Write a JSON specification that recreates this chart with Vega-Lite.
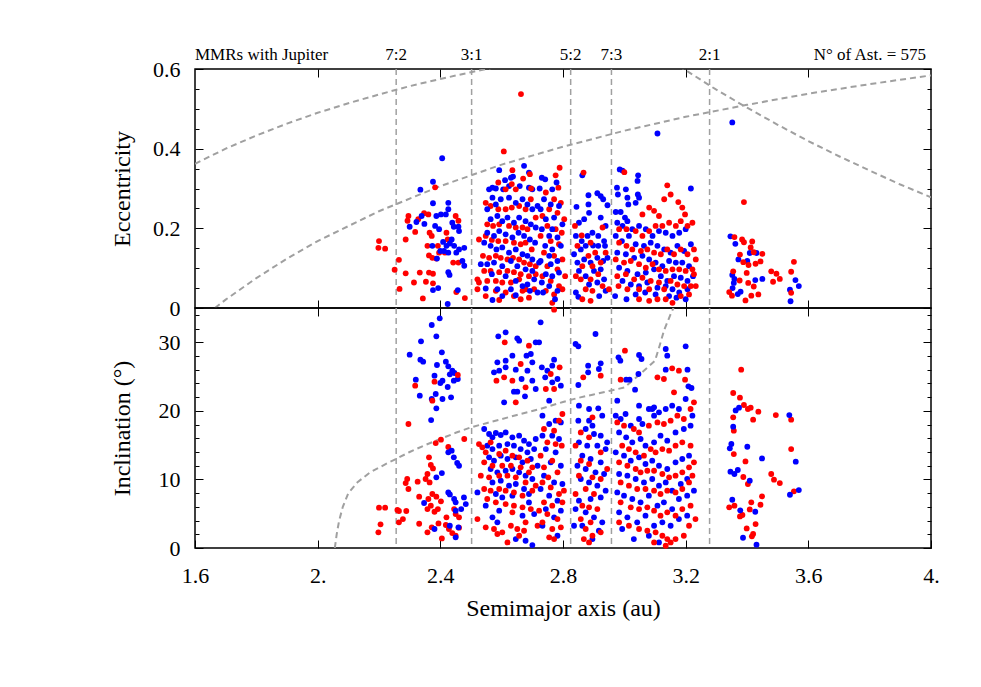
{
"$schema": "https://vega.github.io/schema/vega-lite/v6.json",
"padding": {"left": 109, "top": 45, "right": 5, "bottom": 5},
"background": "white",
"config": {
  "font": "Liberation Serif",
  "view": {"stroke": "black", "strokeWidth": 1.5},
  "axis": {"domain": false, "grid": false, "tickColor": "black", "tickWidth": 1, "labelFont": "Liberation Serif", "titleFont": "Liberation Serif", "labelFontSize": 22, "titleFontSize": 24, "labelColor": "black", "titleColor": "black", "titleFontWeight": "normal", "labelOverlap": false, "labelBound": false, "labelFlush": false},
  "text": {"font": "Liberation Serif", "fontSize": 17, "color": "black"}
},
"datasets": {
  "mmr": [{"a":2.256,"label":"7:2"},{"a":2.502,"label":"3:1"},{"a":2.825,"label":"5:2"},{"a":2.958,"label":"7:3"},{"a":3.278,"label":"2:1"}],
  "notes": [{"a":1.6,"t":"MMRs with Jupiter"},{"a":4.0,"t":"N° of Ast. = 575"}],
  "curvesTop": [
    {"k":"q1","a":1.6,"e":0.362},{"k":"q1","a":1.7,"e":0.4},{"k":"q1","a":1.8,"e":0.433},{"k":"q1","a":1.9,"e":0.463},{"k":"q1","a":2.0,"e":0.49},{"k":"q1","a":2.1,"e":0.514},{"k":"q1","a":2.2,"e":0.536},{"k":"q1","a":2.3,"e":0.557},{"k":"q1","a":2.4,"e":0.575},{"k":"q1","a":2.5,"e":0.592},{"k":"q1","a":2.55,"e":0.6},{"k":"q1","a":2.6,"e":0.608},
    {"k":"q2","a":1.665,"e":0},{"k":"q2","a":1.7,"e":0.021},{"k":"q2","a":1.8,"e":0.075},{"k":"q2","a":1.9,"e":0.124},{"k":"q2","a":2.0,"e":0.168},{"k":"q2","a":2.2,"e":0.243},{"k":"q2","a":2.4,"e":0.306},{"k":"q2","a":2.6,"e":0.36},{"k":"q2","a":2.8,"e":0.405},{"k":"q2","a":3.0,"e":0.445},{"k":"q2","a":3.2,"e":0.48},{"k":"q2","a":3.4,"e":0.51},{"k":"q2","a":3.6,"e":0.538},{"k":"q2","a":3.8,"e":0.562},{"k":"q2","a":4.0,"e":0.584},
    {"k":"Q","a":3.15,"e":0.622},{"k":"Q","a":3.194,"e":0.6},{"k":"Q","a":3.3,"e":0.548},{"k":"Q","a":3.4,"e":0.503},{"k":"Q","a":3.5,"e":0.46},{"k":"Q","a":3.6,"e":0.419},{"k":"Q","a":3.7,"e":0.381},{"k":"Q","a":3.8,"e":0.345},{"k":"Q","a":3.9,"e":0.31},{"k":"Q","a":4.0,"e":0.278}
  ],
  "curveBot": [
    {"a":2.056,"i":0},{"a":2.062,"i":2},{"a":2.07,"i":4},{"a":2.082,"i":6},{"a":2.1,"i":8},{"a":2.13,"i":9.6},{"a":2.17,"i":11},{"a":2.22,"i":12.2},{"a":2.256,"i":13.0},{"a":2.3,"i":14.0},{"a":2.35,"i":15.0},{"a":2.4,"i":15.9},{"a":2.45,"i":16.8},{"a":2.5,"i":17.6},{"a":2.55,"i":18.2},{"a":2.6,"i":18.8},{"a":2.65,"i":19.4},{"a":2.72,"i":20.2},{"a":2.8,"i":21.3},{"a":2.85,"i":21.9},{"a":2.9,"i":22.4},{"a":2.95,"i":22.9},{"a":3.0,"i":23.4},{"a":3.05,"i":25.3},{"a":3.1,"i":27.3},{"a":3.115,"i":29.5},{"a":3.13,"i":31.8},{"a":3.15,"i":34.0},{"a":3.165,"i":35.5}
  ],
  "ecc": [
    {"a":2.2,"e":0.168,"c":"r"},{"a":2.198,"e":0.151,"c":"r"},{"a":2.22,"e":0.149,"c":"r"},{"a":2.265,"e":0.121,"c":"r"},{"a":2.251,"e":0.096,"c":"r"},{"a":2.287,"e":0.087,"c":"r"},{"a":2.267,"e":0.048,"c":"r"},{"a":2.333,"e":0.089,"c":"r"},{"a":2.363,"e":0.089,"c":"r"},{"a":2.376,"e":0.086,"c":"r"},{"a":2.314,"e":0.064,"c":"r"},{"a":2.353,"e":0.066,"c":"r"},{"a":2.376,"e":0.062,"c":"r"},{"a":2.343,"e":0.024,"c":"r"},{"a":2.452,"e":0.04,"c":"r"},{"a":2.48,"e":0.025,"c":"r"},{"a":2.607,"e":0.393,"c":"r"},{"a":2.663,"e":0.537,"c":"r"},{"a":2.383,"e":0.303,"c":"r"},
    {"a":2.393,"e":0.05,"c":"b"},{"a":2.376,"e":0.045,"c":"b"},{"a":2.426,"e":0.09,"c":"b"},{"a":2.43,"e":0.083,"c":"b"},{"a":2.457,"e":0.045,"c":"b"},{"a":2.424,"e":0.01,"c":"b"},{"a":2.406,"e":0.376,"c":"b"},{"a":2.376,"e":0.317,"c":"b"},{"a":2.335,"e":0.297,"c":"b"},
    {"a":2.296,"e":0.231,"c":"r"},{"a":2.293,"e":0.219,"c":"r"},{"a":2.287,"e":0.172,"c":"r"},{"a":2.318,"e":0.191,"c":"r"},{"a":2.328,"e":0.223,"c":"r"},{"a":2.347,"e":0.238,"c":"r"},{"a":2.361,"e":0.235,"c":"r"},{"a":2.365,"e":0.189,"c":"r"},{"a":2.372,"e":0.181,"c":"r"},{"a":2.358,"e":0.156,"c":"r"},{"a":2.363,"e":0.132,"c":"r"},{"a":2.374,"e":0.126,"c":"r"},{"a":2.387,"e":0.124,"c":"r"},{"a":2.396,"e":0.139,"c":"r"},{"a":2.392,"e":0.156,"c":"r"},{"a":2.42,"e":0.189,"c":"r"},{"a":2.424,"e":0.172,"c":"r"},{"a":2.45,"e":0.231,"c":"r"},{"a":2.459,"e":0.219,"c":"r"},{"a":2.442,"e":0.114,"c":"r"},{"a":2.459,"e":0.114,"c":"r"},{"a":2.415,"e":0.139,"c":"r"},
    {"a":2.3,"e":0.204,"c":"b"},{"a":2.322,"e":0.216,"c":"b"},{"a":2.339,"e":0.231,"c":"b"},{"a":2.348,"e":0.211,"c":"b"},{"a":2.376,"e":0.263,"c":"b"},{"a":2.387,"e":0.231,"c":"b"},{"a":2.383,"e":0.206,"c":"b"},{"a":2.402,"e":0.235,"c":"b"},{"a":2.418,"e":0.235,"c":"b"},{"a":2.426,"e":0.264,"c":"b"},{"a":2.439,"e":0.214,"c":"b"},{"a":2.444,"e":0.204,"c":"b"},{"a":2.459,"e":0.204,"c":"b"},{"a":2.461,"e":0.193,"c":"b"},{"a":2.437,"e":0.172,"c":"b"},{"a":2.409,"e":0.166,"c":"b"},{"a":2.42,"e":0.156,"c":"b"},{"a":2.431,"e":0.162,"c":"b"},{"a":2.445,"e":0.156,"c":"b"},{"a":2.452,"e":0.139,"c":"b"},{"a":2.461,"e":0.147,"c":"b"},{"a":2.478,"e":0.151,"c":"b"},{"a":2.472,"e":0.118,"c":"b"},{"a":2.478,"e":0.106,"c":"b"},{"a":2.426,"e":0.139,"c":"b"},{"a":2.412,"e":0.143,"c":"b"},{"a":2.4,"e":0.143,"c":"b"},{"a":2.389,"e":0.124,"c":"b"},{"a":2.374,"e":0.156,"c":"b"},{"a":2.396,"e":0.198,"c":"b"},{"a":2.426,"e":0.248,"c":"b"},
    {"a":2.592,"e":0.346,"c":"b"},{"a":2.611,"e":0.321,"c":"b"},{"a":2.63,"e":0.327,"c":"b"},{"a":2.637,"e":0.33,"c":"b"},{"a":2.673,"e":0.357,"c":"b"},{"a":2.689,"e":0.34,"c":"b"},{"a":2.57,"e":0.302,"c":"b"},{"a":2.559,"e":0.298,"c":"b"},{"a":2.581,"e":0.3,"c":"b"},{"a":2.605,"e":0.298,"c":"b"},{"a":2.624,"e":0.306,"c":"b"},{"a":2.659,"e":0.306,"c":"b"},{"a":2.689,"e":0.302,"c":"b"},{"a":2.7,"e":0.298,"c":"b"},
    {"a":2.635,"e":0.346,"c":"r"},{"a":2.67,"e":0.325,"c":"r"},{"a":2.692,"e":0.336,"c":"r"},{"a":2.589,"e":0.315,"c":"r"},{"a":2.613,"e":0.298,"c":"r"},{"a":2.633,"e":0.311,"c":"r"},{"a":2.696,"e":0.3,"c":"r"},{"a":2.646,"e":0.298,"c":"r"},
    {"a":2.548,"e":0.264,"c":"r"},{"a":2.564,"e":0.256,"c":"r"},{"a":2.589,"e":0.248,"c":"r"},{"a":2.613,"e":0.248,"c":"r"},{"a":2.633,"e":0.252,"c":"r"},{"a":2.657,"e":0.256,"c":"r"},{"a":2.678,"e":0.248,"c":"r"},{"a":2.695,"e":0.273,"c":"r"},{"a":2.711,"e":0.227,"c":"r"},{"a":2.553,"e":0.21,"c":"r"},{"a":2.572,"e":0.206,"c":"r"},{"a":2.592,"e":0.21,"c":"r"},{"a":2.624,"e":0.206,"c":"r"},{"a":2.646,"e":0.202,"c":"r"},{"a":2.668,"e":0.202,"c":"r"},{"a":2.684,"e":0.198,"c":"r"},{"a":2.548,"e":0.181,"c":"r"},{"a":2.568,"e":0.171,"c":"r"},{"a":2.589,"e":0.168,"c":"r"},{"a":2.613,"e":0.168,"c":"r"},{"a":2.64,"e":0.164,"c":"r"},{"a":2.662,"e":0.16,"c":"r"},{"a":2.678,"e":0.164,"c":"r"},{"a":2.698,"e":0.147,"c":"r"},{"a":2.526,"e":0.172,"c":"r"},{"a":2.539,"e":0.131,"c":"r"},{"a":2.559,"e":0.126,"c":"r"},{"a":2.581,"e":0.131,"c":"r"},{"a":2.597,"e":0.126,"c":"r"},{"a":2.619,"e":0.122,"c":"r"},{"a":2.637,"e":0.126,"c":"r"},{"a":2.657,"e":0.122,"c":"r"},{"a":2.673,"e":0.114,"c":"r"},{"a":2.692,"e":0.11,"c":"r"},{"a":2.711,"e":0.105,"c":"r"},{"a":2.521,"e":0.072,"c":"r"},{"a":2.543,"e":0.093,"c":"r"},{"a":2.564,"e":0.093,"c":"r"},{"a":2.592,"e":0.09,"c":"r"},{"a":2.619,"e":0.093,"c":"r"},{"a":2.64,"e":0.09,"c":"r"},{"a":2.662,"e":0.085,"c":"r"},{"a":2.689,"e":0.08,"c":"r"},{"a":2.711,"e":0.085,"c":"r"},{"a":2.526,"e":0.064,"c":"r"},{"a":2.553,"e":0.068,"c":"r"},{"a":2.581,"e":0.068,"c":"r"},{"a":2.602,"e":0.064,"c":"r"},{"a":2.63,"e":0.064,"c":"r"},{"a":2.657,"e":0.072,"c":"r"},{"a":2.678,"e":0.047,"c":"r"},{"a":2.706,"e":0.047,"c":"r"},{"a":2.581,"e":0.043,"c":"r"},{"a":2.613,"e":0.039,"c":"r"},{"a":2.64,"e":0.03,"c":"r"},{"a":2.668,"e":0.043,"c":"r"},{"a":2.521,"e":0.047,"c":"r"},{"a":2.548,"e":0.03,"c":"r"},{"a":2.592,"e":0.02,"c":"r"},{"a":2.662,"e":0.022,"c":"r"},{"a":2.689,"e":0.026,"c":"r"},
    {"a":2.553,"e":0.248,"c":"b"},{"a":2.57,"e":0.277,"c":"b"},{"a":2.581,"e":0.26,"c":"b"},{"a":2.597,"e":0.273,"c":"b"},{"a":2.624,"e":0.277,"c":"b"},{"a":2.646,"e":0.264,"c":"b"},{"a":2.668,"e":0.273,"c":"b"},{"a":2.684,"e":0.26,"c":"b"},{"a":2.7,"e":0.248,"c":"b"},{"a":2.717,"e":0.256,"c":"b"},{"a":2.564,"e":0.223,"c":"b"},{"a":2.586,"e":0.231,"c":"b"},{"a":2.602,"e":0.218,"c":"b"},{"a":2.619,"e":0.227,"c":"b"},{"a":2.64,"e":0.214,"c":"b"},{"a":2.657,"e":0.227,"c":"b"},{"a":2.678,"e":0.218,"c":"b"},{"a":2.695,"e":0.21,"c":"b"},{"a":2.711,"e":0.202,"c":"b"},{"a":2.553,"e":0.189,"c":"b"},{"a":2.575,"e":0.181,"c":"b"},{"a":2.592,"e":0.193,"c":"b"},{"a":2.613,"e":0.185,"c":"b"},{"a":2.635,"e":0.177,"c":"b"},{"a":2.655,"e":0.189,"c":"b"},{"a":2.673,"e":0.181,"c":"b"},{"a":2.692,"e":0.172,"c":"b"},{"a":2.709,"e":0.164,"c":"b"},{"a":2.543,"e":0.164,"c":"b"},{"a":2.564,"e":0.156,"c":"b"},{"a":2.583,"e":0.147,"c":"b"},{"a":2.602,"e":0.152,"c":"b"},{"a":2.624,"e":0.139,"c":"b"},{"a":2.646,"e":0.147,"c":"b"},{"a":2.668,"e":0.135,"c":"b"},{"a":2.684,"e":0.131,"c":"b"},{"a":2.7,"e":0.122,"c":"b"},{"a":2.722,"e":0.114,"c":"b"},{"a":2.532,"e":0.11,"c":"b"},{"a":2.553,"e":0.11,"c":"b"},{"a":2.575,"e":0.114,"c":"b"},{"a":2.602,"e":0.105,"c":"b"},{"a":2.63,"e":0.118,"c":"b"},{"a":2.651,"e":0.105,"c":"b"},{"a":2.678,"e":0.097,"c":"b"},{"a":2.7,"e":0.093,"c":"b"},{"a":2.568,"e":0.085,"c":"b"},{"a":2.613,"e":0.08,"c":"b"},{"a":2.646,"e":0.068,"c":"b"},{"a":2.684,"e":0.059,"c":"b"},{"a":2.706,"e":0.072,"c":"b"},{"a":2.548,"e":0.049,"c":"b"},{"a":2.586,"e":0.047,"c":"b"},{"a":2.63,"e":0.047,"c":"b"},{"a":2.668,"e":0.055,"c":"b"},{"a":2.692,"e":0.043,"c":"b"},{"a":2.717,"e":0.039,"c":"b"},{"a":2.57,"e":0.02,"c":"b"},{"a":2.602,"e":0.03,"c":"b"},{"a":2.646,"e":0.032,"c":"b"},
    {"a":2.789,"e":0.352,"c":"r"},{"a":2.776,"e":0.333,"c":"r"},{"a":2.785,"e":0.302,"c":"r"},{"a":2.744,"e":0.29,"c":"r"},{"a":2.771,"e":0.273,"c":"r"},{"a":2.793,"e":0.264,"c":"r"},{"a":2.755,"e":0.248,"c":"r"},{"a":2.733,"e":0.231,"c":"r"},{"a":2.782,"e":0.239,"c":"r"},{"a":2.804,"e":0.223,"c":"r"},{"a":2.749,"e":0.206,"c":"r"},{"a":2.776,"e":0.198,"c":"r"},{"a":2.796,"e":0.189,"c":"r"},{"a":2.727,"e":0.181,"c":"r"},{"a":2.76,"e":0.168,"c":"r"},{"a":2.787,"e":0.16,"c":"r"},{"a":2.738,"e":0.139,"c":"r"},{"a":2.771,"e":0.131,"c":"r"},{"a":2.798,"e":0.122,"c":"r"},{"a":2.749,"e":0.105,"c":"r"},{"a":2.782,"e":0.097,"c":"r"},{"a":2.807,"e":0.08,"c":"r"},{"a":2.733,"e":0.08,"c":"r"},{"a":2.76,"e":0.068,"c":"r"},{"a":2.787,"e":0.055,"c":"r"},{"a":2.744,"e":0.043,"c":"r"},{"a":2.771,"e":0.034,"c":"r"},{"a":2.798,"e":0.047,"c":"r"},{"a":2.765,"e":0.013,"c":"r"},
    {"a":2.731,"e":0.327,"c":"b"},{"a":2.742,"e":0.323,"c":"b"},{"a":2.724,"e":0.3,"c":"b"},{"a":2.765,"e":0.298,"c":"b"},{"a":2.779,"e":0.315,"c":"b"},{"a":2.738,"e":0.273,"c":"b"},{"a":2.76,"e":0.26,"c":"b"},{"a":2.787,"e":0.256,"c":"b"},{"a":2.727,"e":0.248,"c":"b"},{"a":2.744,"e":0.223,"c":"b"},{"a":2.771,"e":0.227,"c":"b"},{"a":2.798,"e":0.21,"c":"b"},{"a":2.765,"e":0.198,"c":"b"},{"a":2.731,"e":0.198,"c":"b"},{"a":2.755,"e":0.181,"c":"b"},{"a":2.782,"e":0.177,"c":"b"},{"a":2.742,"e":0.156,"c":"b"},{"a":2.765,"e":0.147,"c":"b"},{"a":2.793,"e":0.156,"c":"b"},{"a":2.755,"e":0.131,"c":"b"},{"a":2.782,"e":0.118,"c":"b"},{"a":2.727,"e":0.118,"c":"b"},{"a":2.76,"e":0.11,"c":"b"},{"a":2.787,"e":0.089,"c":"b"},{"a":2.744,"e":0.085,"c":"b"},{"a":2.765,"e":0.08,"c":"b"},{"a":2.731,"e":0.064,"c":"b"},{"a":2.755,"e":0.055,"c":"b"},{"a":2.782,"e":0.043,"c":"b"},{"a":2.735,"e":0.039,"c":"b"},{"a":2.774,"e":0.022,"c":"b"},
    {"a":2.863,"e":0.333,"c":"b"},{"a":2.844,"e":0.254,"c":"b"},{"a":2.883,"e":0.283,"c":"b"},{"a":2.883,"e":0.26,"c":"b"},{"a":2.912,"e":0.288,"c":"b"},{"a":2.923,"e":0.281,"c":"b"},{"a":2.931,"e":0.273,"c":"b"},{"a":2.945,"e":0.258,"c":"b"},{"a":2.852,"e":0.214,"c":"b"},{"a":2.869,"e":0.223,"c":"b"},{"a":2.885,"e":0.239,"c":"b"},{"a":2.923,"e":0.227,"c":"b"},{"a":2.939,"e":0.206,"c":"b"},{"a":2.842,"e":0.181,"c":"b"},{"a":2.861,"e":0.168,"c":"b"},{"a":2.88,"e":0.181,"c":"b"},{"a":2.896,"e":0.189,"c":"b"},{"a":2.915,"e":0.181,"c":"b"},{"a":2.934,"e":0.168,"c":"b"},{"a":2.836,"e":0.135,"c":"b"},{"a":2.858,"e":0.147,"c":"b"},{"a":2.874,"e":0.156,"c":"b"},{"a":2.898,"e":0.157,"c":"b"},{"a":2.915,"e":0.156,"c":"b"},{"a":2.937,"e":0.156,"c":"b"},{"a":2.847,"e":0.114,"c":"b"},{"a":2.869,"e":0.122,"c":"b"},{"a":2.89,"e":0.114,"c":"b"},{"a":2.912,"e":0.126,"c":"b"},{"a":2.931,"e":0.118,"c":"b"},{"a":2.945,"e":0.126,"c":"b"},{"a":2.852,"e":0.093,"c":"b"},{"a":2.874,"e":0.08,"c":"b"},{"a":2.901,"e":0.093,"c":"b"},{"a":2.923,"e":0.097,"c":"b"},{"a":2.885,"e":0.059,"c":"b"},{"a":2.912,"e":0.064,"c":"b"},{"a":2.934,"e":0.072,"c":"b"},{"a":2.85,"e":0.028,"c":"b"},{"a":2.918,"e":0.03,"c":"b"},{"a":2.939,"e":0.043,"c":"b"},{"a":2.842,"e":0.039,"c":"b"},
    {"a":2.867,"e":0.34,"c":"r"},{"a":2.839,"e":0.206,"c":"r"},{"a":2.861,"e":0.182,"c":"r"},{"a":2.89,"e":0.164,"c":"r"},{"a":2.929,"e":0.202,"c":"r"},{"a":2.847,"e":0.156,"c":"r"},{"a":2.883,"e":0.131,"c":"r"},{"a":2.905,"e":0.139,"c":"r"},{"a":2.939,"e":0.139,"c":"r"},{"a":2.863,"e":0.105,"c":"r"},{"a":2.896,"e":0.105,"c":"r"},{"a":2.923,"e":0.114,"c":"r"},{"a":2.842,"e":0.08,"c":"r"},{"a":2.858,"e":0.072,"c":"r"},{"a":2.89,"e":0.072,"c":"r"},{"a":2.915,"e":0.085,"c":"r"},{"a":2.874,"e":0.047,"c":"r"},{"a":2.896,"e":0.043,"c":"r"},{"a":2.929,"e":0.055,"c":"r"},{"a":2.863,"e":0.022,"c":"r"},{"a":2.89,"e":0.018,"c":"r"},{"a":2.95,"e":0.047,"c":"r"},
    {"a":2.985,"e":0.348,"c":"b"},{"a":2.994,"e":0.345,"c":"b"},{"a":3.045,"e":0.333,"c":"b"},{"a":3.043,"e":0.319,"c":"b"},{"a":2.976,"e":0.302,"c":"b"},{"a":3.005,"e":0.298,"c":"b"},{"a":3.044,"e":0.285,"c":"b"},{"a":3.048,"e":0.277,"c":"b"},{"a":2.979,"e":0.285,"c":"b"},{"a":3.01,"e":0.277,"c":"b"},{"a":3.037,"e":0.264,"c":"b"},{"a":3.013,"e":0.26,"c":"b"},{"a":2.972,"e":0.241,"c":"b"},{"a":2.988,"e":0.241,"c":"b"},{"a":3.002,"e":0.227,"c":"b"},{"a":3.217,"e":0.3,"c":"b"},{"a":3.108,"e":0.438,"c":"b"},
    {"a":3.0,"e":0.341,"c":"r"},{"a":3.14,"e":0.308,"c":"r"},{"a":3.151,"e":0.285,"c":"r"},{"a":3.13,"e":0.273,"c":"r"},{"a":3.176,"e":0.266,"c":"r"},{"a":3.189,"e":0.252,"c":"r"},{"a":3.198,"e":0.235,"c":"r"},{"a":3.081,"e":0.252,"c":"r"},{"a":3.097,"e":0.244,"c":"r"},{"a":3.113,"e":0.231,"c":"r"},{"a":3.059,"e":0.235,"c":"r"},
    {"a":2.977,"e":0.214,"c":"b"},{"a":2.994,"e":0.206,"c":"b"},{"a":3.01,"e":0.218,"c":"b"},{"a":3.026,"e":0.198,"c":"b"},{"a":3.048,"e":0.206,"c":"b"},{"a":3.07,"e":0.198,"c":"b"},{"a":3.092,"e":0.181,"c":"b"},{"a":3.113,"e":0.193,"c":"b"},{"a":3.135,"e":0.189,"c":"b"},{"a":3.157,"e":0.181,"c":"b"},{"a":3.179,"e":0.189,"c":"b"},{"a":3.2,"e":0.198,"c":"b"},{"a":2.972,"e":0.181,"c":"b"},{"a":2.992,"e":0.168,"c":"b"},{"a":3.015,"e":0.181,"c":"b"},{"a":3.037,"e":0.16,"c":"b"},{"a":3.064,"e":0.156,"c":"b"},{"a":3.086,"e":0.164,"c":"b"},{"a":3.108,"e":0.156,"c":"b"},{"a":3.13,"e":0.147,"c":"b"},{"a":3.151,"e":0.139,"c":"b"},{"a":3.173,"e":0.156,"c":"b"},{"a":3.195,"e":0.143,"c":"b"},{"a":3.217,"e":0.16,"c":"b"},{"a":2.977,"e":0.139,"c":"b"},{"a":3.005,"e":0.135,"c":"b"},{"a":3.032,"e":0.126,"c":"b"},{"a":3.059,"e":0.131,"c":"b"},{"a":3.081,"e":0.122,"c":"b"},{"a":3.102,"e":0.114,"c":"b"},{"a":3.124,"e":0.105,"c":"b"},{"a":3.146,"e":0.118,"c":"b"},{"a":3.168,"e":0.114,"c":"b"},{"a":3.189,"e":0.114,"c":"b"},{"a":3.211,"e":0.105,"c":"b"},{"a":2.983,"e":0.101,"c":"b"},{"a":3.01,"e":0.093,"c":"b"},{"a":3.043,"e":0.085,"c":"b"},{"a":3.07,"e":0.089,"c":"b"},{"a":3.097,"e":0.097,"c":"b"},{"a":3.119,"e":0.08,"c":"b"},{"a":3.14,"e":0.068,"c":"b"},{"a":3.162,"e":0.08,"c":"b"},{"a":3.184,"e":0.076,"c":"b"},{"a":3.206,"e":0.068,"c":"b"},{"a":3.224,"e":0.08,"c":"b"},{"a":2.994,"e":0.068,"c":"b"},{"a":3.021,"e":0.059,"c":"b"},{"a":3.048,"e":0.055,"c":"b"},{"a":3.075,"e":0.064,"c":"b"},{"a":3.108,"e":0.051,"c":"b"},{"a":3.135,"e":0.055,"c":"b"},{"a":3.157,"e":0.047,"c":"b"},{"a":3.179,"e":0.039,"c":"b"},{"a":3.206,"e":0.047,"c":"b"},{"a":2.97,"e":0.03,"c":"b"},{"a":3.007,"e":0.022,"c":"b"},{"a":3.037,"e":0.034,"c":"b"},{"a":3.068,"e":0.039,"c":"b"},{"a":3.102,"e":0.034,"c":"b"},{"a":3.146,"e":0.03,"c":"b"},{"a":3.17,"e":0.026,"c":"b"},{"a":3.2,"e":0.022,"c":"b"},
    {"a":2.983,"e":0.198,"c":"r"},{"a":3.007,"e":0.198,"c":"r"},{"a":3.037,"e":0.193,"c":"r"},{"a":3.059,"e":0.181,"c":"r"},{"a":3.081,"e":0.193,"c":"r"},{"a":3.102,"e":0.206,"c":"r"},{"a":3.124,"e":0.206,"c":"r"},{"a":3.146,"e":0.214,"c":"r"},{"a":3.168,"e":0.206,"c":"r"},{"a":3.184,"e":0.218,"c":"r"},{"a":3.206,"e":0.206,"c":"r"},{"a":3.222,"e":0.214,"c":"r"},{"a":2.983,"e":0.164,"c":"r"},{"a":3.007,"e":0.156,"c":"r"},{"a":3.026,"e":0.147,"c":"r"},{"a":3.054,"e":0.143,"c":"r"},{"a":3.075,"e":0.147,"c":"r"},{"a":3.097,"e":0.139,"c":"r"},{"a":3.119,"e":0.135,"c":"r"},{"a":3.14,"e":0.147,"c":"r"},{"a":3.162,"e":0.135,"c":"r"},{"a":3.184,"e":0.147,"c":"r"},{"a":3.206,"e":0.135,"c":"r"},{"a":3.227,"e":0.147,"c":"r"},{"a":2.972,"e":0.122,"c":"r"},{"a":2.999,"e":0.114,"c":"r"},{"a":3.021,"e":0.118,"c":"r"},{"a":3.048,"e":0.11,"c":"r"},{"a":3.07,"e":0.101,"c":"r"},{"a":3.092,"e":0.11,"c":"r"},{"a":3.113,"e":0.097,"c":"r"},{"a":3.135,"e":0.093,"c":"r"},{"a":3.157,"e":0.097,"c":"r"},{"a":3.179,"e":0.097,"c":"r"},{"a":3.2,"e":0.093,"c":"r"},{"a":3.222,"e":0.097,"c":"r"},{"a":3.233,"e":0.122,"c":"r"},{"a":2.977,"e":0.08,"c":"r"},{"a":3.005,"e":0.085,"c":"r"},{"a":3.032,"e":0.072,"c":"r"},{"a":3.059,"e":0.076,"c":"r"},{"a":3.086,"e":0.068,"c":"r"},{"a":3.113,"e":0.064,"c":"r"},{"a":3.13,"e":0.047,"c":"r"},{"a":3.151,"e":0.068,"c":"r"},{"a":3.173,"e":0.059,"c":"r"},{"a":3.195,"e":0.055,"c":"r"},{"a":3.217,"e":0.055,"c":"r"},{"a":3.227,"e":0.085,"c":"r"},{"a":2.981,"e":0.055,"c":"r"},{"a":3.01,"e":0.047,"c":"r"},{"a":3.048,"e":0.047,"c":"r"},{"a":3.081,"e":0.047,"c":"r"},{"a":3.108,"e":0.022,"c":"r"},{"a":3.135,"e":0.022,"c":"r"},{"a":3.157,"e":0.013,"c":"r"},{"a":3.184,"e":0.03,"c":"r"},{"a":3.211,"e":0.034,"c":"r"},{"a":3.233,"e":0.055,"c":"r"},{"a":3.048,"e":0.022,"c":"r"},{"a":3.081,"e":0.018,"c":"r"},
    {"a":3.352,"e":0.466,"c":"b"},{"a":3.346,"e":0.18,"c":"b"},{"a":3.362,"e":0.161,"c":"b"},{"a":3.409,"e":0.138,"c":"b"},{"a":3.431,"e":0.138,"c":"b"},{"a":3.372,"e":0.122,"c":"b"},{"a":3.401,"e":0.118,"c":"b"},{"a":3.352,"e":0.083,"c":"b"},{"a":3.359,"e":0.073,"c":"b"},{"a":3.357,"e":0.063,"c":"b"},{"a":3.353,"e":0.05,"c":"b"},{"a":3.427,"e":0.07,"c":"b"},{"a":3.45,"e":0.073,"c":"b"},{"a":3.379,"e":0.041,"c":"b"},{"a":3.37,"e":0.035,"c":"b"},{"a":3.558,"e":0.07,"c":"b"},{"a":3.569,"e":0.055,"c":"b"},{"a":3.54,"e":0.046,"c":"b"},{"a":3.542,"e":0.017,"c":"b"},
    {"a":3.39,"e":0.266,"c":"r"},{"a":3.359,"e":0.178,"c":"r"},{"a":3.384,"e":0.172,"c":"r"},{"a":3.39,"e":0.165,"c":"r"},{"a":3.417,"e":0.167,"c":"r"},{"a":3.412,"e":0.152,"c":"r"},{"a":3.377,"e":0.134,"c":"r"},{"a":3.422,"e":0.14,"c":"r"},{"a":3.45,"e":0.136,"c":"r"},{"a":3.388,"e":0.115,"c":"r"},{"a":3.405,"e":0.108,"c":"r"},{"a":3.428,"e":0.111,"c":"r"},{"a":3.444,"e":0.117,"c":"r"},{"a":3.355,"e":0.092,"c":"r"},{"a":3.399,"e":0.088,"c":"r"},{"a":3.376,"e":0.069,"c":"r"},{"a":3.404,"e":0.063,"c":"r"},{"a":3.422,"e":0.054,"c":"r"},{"a":3.479,"e":0.092,"c":"r"},{"a":3.496,"e":0.086,"c":"r"},{"a":3.485,"e":0.066,"c":"r"},{"a":3.507,"e":0.073,"c":"r"},{"a":3.553,"e":0.116,"c":"r"},{"a":3.544,"e":0.091,"c":"r"},{"a":3.342,"e":0.04,"c":"r"},{"a":3.351,"e":0.031,"c":"r"},{"a":3.395,"e":0.019,"c":"r"},{"a":3.414,"e":0.031,"c":"r"},{"a":3.437,"e":0.034,"c":"r"},{"a":3.544,"e":0.038,"c":"r"}
  ],
  "inc": [
    {"a":2.398,"i":33.49,"c":"b"},{"a":2.372,"i":32.52,"c":"b"},{"a":2.387,"i":30.87,"c":"b"},{"a":2.337,"i":30.14,"c":"b"},{"a":2.3,"i":28.19,"c":"b"},{"a":2.335,"i":27.47,"c":"b"},{"a":2.344,"i":27.17,"c":"b"},{"a":2.405,"i":28.53,"c":"b"},{"a":2.418,"i":27.17,"c":"b"},{"a":2.389,"i":26.69,"c":"b"},{"a":2.426,"i":26.49,"c":"b"},{"a":2.439,"i":25.86,"c":"b"},{"a":2.446,"i":25.52,"c":"b"},{"a":2.431,"i":25.33,"c":"b"},{"a":2.457,"i":24.65,"c":"b"},{"a":2.444,"i":24.4,"c":"b"},{"a":2.32,"i":24.55,"c":"b"},{"a":2.381,"i":25.13,"c":"b"},{"a":2.407,"i":24.4,"c":"b"},{"a":2.424,"i":23.48,"c":"b"},{"a":2.4,"i":24.06,"c":"b"},{"a":2.385,"i":22.46,"c":"b"},{"a":2.372,"i":21.73,"c":"b"},{"a":2.407,"i":21.73,"c":"b"},{"a":2.435,"i":21.97,"c":"b"},{"a":2.333,"i":22.21,"c":"b"},{"a":2.387,"i":20.37,"c":"b"},{"a":2.37,"i":18.66,"c":"b"},
    {"a":2.457,"i":25.23,"c":"r"},{"a":2.381,"i":24.26,"c":"r"},{"a":2.318,"i":23.67,"c":"r"},{"a":2.374,"i":21.49,"c":"r"},{"a":2.296,"i":18.08,"c":"r"},
    {"a":2.385,"i":15.3,"c":"r"},{"a":2.402,"i":15.8,"c":"r"},{"a":2.426,"i":14.73,"c":"r"},{"a":2.478,"i":15.89,"c":"r"},{"a":2.363,"i":13.22,"c":"r"},{"a":2.369,"i":12.1,"c":"r"},{"a":2.376,"i":11.61,"c":"r"},{"a":2.358,"i":10.79,"c":"r"},{"a":2.352,"i":10.06,"c":"r"},{"a":2.365,"i":9.57,"c":"r"},{"a":2.292,"i":10.06,"c":"r"},{"a":2.287,"i":9.47,"c":"r"},{"a":2.296,"i":8.6,"c":"r"},{"a":2.326,"i":9.67,"c":"r"},{"a":2.374,"i":7.87,"c":"r"},{"a":2.387,"i":7.48,"c":"r"},{"a":2.402,"i":6.8,"c":"r"},{"a":2.331,"i":7.48,"c":"r"},{"a":2.361,"i":7.14,"c":"r"},{"a":2.358,"i":5.68,"c":"r"},{"a":2.369,"i":6.17,"c":"r"},{"a":2.392,"i":5.68,"c":"r"},{"a":2.381,"i":5.29,"c":"r"},{"a":2.289,"i":5.39,"c":"r"},{"a":2.265,"i":5.39,"c":"r"},{"a":2.26,"i":5.54,"c":"r"},{"a":2.278,"i":4.22,"c":"r"},{"a":2.331,"i":3.54,"c":"r"},{"a":2.394,"i":3.59,"c":"r"},{"a":2.372,"i":3.01,"c":"r"},{"a":2.358,"i":2.28,"c":"r"},{"a":2.418,"i":3.35,"c":"r"},{"a":2.428,"i":2.77,"c":"r"},{"a":2.439,"i":2.18,"c":"r"},{"a":2.45,"i":1.79,"c":"r"},{"a":2.405,"i":1.4,"c":"r"},{"a":2.461,"i":2.96,"c":"r"},{"a":2.42,"i":4.47,"c":"r"},{"a":2.45,"i":4.95,"c":"r"},{"a":2.461,"i":4.47,"c":"r"},{"a":2.445,"i":5.68,"c":"r"},{"a":2.2,"i":5.88,"c":"r"},{"a":2.22,"i":5.88,"c":"r"},{"a":2.205,"i":3.45,"c":"r"},{"a":2.198,"i":2.28,"c":"r"},{"a":2.265,"i":3.74,"c":"r"},
    {"a":2.426,"i":13.95,"c":"b"},{"a":2.437,"i":14.19,"c":"b"},{"a":2.444,"i":13.22,"c":"b"},{"a":2.461,"i":12.0,"c":"b"},{"a":2.455,"i":12.39,"c":"b"},{"a":2.405,"i":10.93,"c":"b"},{"a":2.387,"i":10.3,"c":"b"},{"a":2.426,"i":8.11,"c":"b"},{"a":2.431,"i":7.82,"c":"b"},{"a":2.445,"i":7.14,"c":"b"},{"a":2.45,"i":6.66,"c":"b"},{"a":2.477,"i":7.38,"c":"b"},{"a":2.483,"i":6.41,"c":"b"},{"a":2.347,"i":6.56,"c":"b"},{"a":2.468,"i":5.68,"c":"b"},{"a":2.45,"i":5.44,"c":"b"},{"a":2.431,"i":3.25,"c":"b"},{"a":2.459,"i":3.01,"c":"b"},{"a":2.381,"i":2.77,"c":"b"},{"a":2.45,"i":1.55,"c":"b"},
    {"a":2.589,"i":30.87,"c":"b"},{"a":2.613,"i":31.45,"c":"b"},{"a":2.651,"i":30.58,"c":"b"},{"a":2.657,"i":30.24,"c":"b"},{"a":2.711,"i":29.99,"c":"b"},{"a":2.635,"i":28.05,"c":"b"},{"a":2.586,"i":27.08,"c":"b"},{"a":2.613,"i":27.32,"c":"b"},{"a":2.575,"i":25.62,"c":"b"},{"a":2.592,"i":25.86,"c":"b"},{"a":2.613,"i":26.35,"c":"b"},{"a":2.646,"i":26.01,"c":"b"},{"a":2.681,"i":28.05,"c":"b"},{"a":2.695,"i":28.29,"c":"b"},{"a":2.7,"i":27.08,"c":"b"},{"a":2.684,"i":25.86,"c":"b"},{"a":2.665,"i":24.65,"c":"b"},{"a":2.651,"i":22.8,"c":"b"},{"a":2.676,"i":22.12,"c":"b"},{"a":2.608,"i":21.24,"c":"b"},{"a":2.64,"i":22.8,"c":"b"},{"a":2.711,"i":23.19,"c":"b"},{"a":2.7,"i":24.4,"c":"b"},
    {"a":2.61,"i":29.99,"c":"r"},{"a":2.662,"i":26.83,"c":"r"},{"a":2.583,"i":24.4,"c":"r"},{"a":2.608,"i":24.89,"c":"r"},{"a":2.635,"i":24.4,"c":"r"},{"a":2.646,"i":21.24,"c":"r"},{"a":2.678,"i":23.43,"c":"r"},{"a":2.689,"i":29.51,"c":"r"},
    {"a":2.543,"i":17.35,"c":"b"},{"a":2.559,"i":16.62,"c":"b"},{"a":2.57,"i":16.14,"c":"b"},{"a":2.581,"i":16.77,"c":"b"},{"a":2.597,"i":16.48,"c":"b"},{"a":2.613,"i":16.86,"c":"b"},{"a":2.635,"i":16.14,"c":"b"},{"a":2.657,"i":16.38,"c":"b"},{"a":2.673,"i":15.65,"c":"b"},{"a":2.689,"i":15.16,"c":"b"},{"a":2.711,"i":15.89,"c":"b"},{"a":2.553,"i":14.92,"c":"b"},{"a":2.57,"i":14.43,"c":"b"},{"a":2.592,"i":14.92,"c":"b"},{"a":2.619,"i":15.16,"c":"b"},{"a":2.64,"i":14.92,"c":"b"},{"a":2.662,"i":14.43,"c":"b"},{"a":2.684,"i":13.95,"c":"b"},{"a":2.706,"i":14.43,"c":"b"},{"a":2.559,"i":13.22,"c":"b"},{"a":2.575,"i":12.73,"c":"b"},{"a":2.597,"i":13.46,"c":"b"},{"a":2.619,"i":12.98,"c":"b"},{"a":2.646,"i":13.22,"c":"b"},{"a":2.668,"i":12.49,"c":"b"},{"a":2.695,"i":12.98,"c":"b"},{"a":2.717,"i":12.0,"c":"b"},{"a":2.564,"i":11.52,"c":"b"},{"a":2.586,"i":11.03,"c":"b"},{"a":2.613,"i":11.27,"c":"b"},{"a":2.635,"i":11.52,"c":"b"},{"a":2.657,"i":11.03,"c":"b"},{"a":2.678,"i":10.55,"c":"b"},{"a":2.7,"i":10.06,"c":"b"},{"a":2.57,"i":9.57,"c":"b"},{"a":2.597,"i":9.82,"c":"b"},{"a":2.624,"i":9.09,"c":"b"},{"a":2.646,"i":9.33,"c":"b"},{"a":2.673,"i":8.6,"c":"b"},{"a":2.689,"i":7.87,"c":"b"},{"a":2.521,"i":8.11,"c":"b"},{"a":2.581,"i":7.87,"c":"b"},{"a":2.602,"i":7.38,"c":"b"},{"a":2.635,"i":7.63,"c":"b"},{"a":2.689,"i":6.65,"c":"b"},{"a":2.548,"i":6.17,"c":"b"},{"a":2.57,"i":4.47,"c":"b"},{"a":2.592,"i":5.44,"c":"b"},{"a":2.646,"i":1.3,"c":"b"},{"a":2.678,"i":1.06,"c":"b"},{"a":2.7,"i":0.43,"c":"b"},{"a":2.586,"i":3.74,"c":"b"},{"a":2.668,"i":4.71,"c":"b"},{"a":2.706,"i":4.95,"c":"b"},
    {"a":2.526,"i":15.16,"c":"r"},{"a":2.537,"i":14.68,"c":"r"},{"a":2.548,"i":13.95,"c":"r"},{"a":2.564,"i":15.41,"c":"r"},{"a":2.592,"i":13.71,"c":"r"},{"a":2.613,"i":14.19,"c":"r"},{"a":2.635,"i":13.46,"c":"r"},{"a":2.657,"i":13.22,"c":"r"},{"a":2.684,"i":12.73,"c":"r"},{"a":2.7,"i":11.76,"c":"r"},{"a":2.543,"i":12.49,"c":"r"},{"a":2.57,"i":12.0,"c":"r"},{"a":2.602,"i":12.0,"c":"r"},{"a":2.63,"i":12.0,"c":"r"},{"a":2.662,"i":11.76,"c":"r"},{"a":2.689,"i":11.03,"c":"r"},{"a":2.532,"i":10.55,"c":"r"},{"a":2.559,"i":10.3,"c":"r"},{"a":2.592,"i":10.55,"c":"r"},{"a":2.619,"i":10.55,"c":"r"},{"a":2.646,"i":10.3,"c":"r"},{"a":2.678,"i":9.57,"c":"r"},{"a":2.711,"i":9.09,"c":"r"},{"a":2.543,"i":8.6,"c":"r"},{"a":2.564,"i":8.36,"c":"r"},{"a":2.592,"i":8.6,"c":"r"},{"a":2.613,"i":8.36,"c":"r"},{"a":2.64,"i":8.11,"c":"r"},{"a":2.668,"i":7.63,"c":"r"},{"a":2.7,"i":8.36,"c":"r"},{"a":2.553,"i":7.14,"c":"r"},{"a":2.581,"i":6.66,"c":"r"},{"a":2.613,"i":6.41,"c":"r"},{"a":2.64,"i":6.17,"c":"r"},{"a":2.668,"i":5.93,"c":"r"},{"a":2.695,"i":5.68,"c":"r"},{"a":2.722,"i":5.44,"c":"r"},{"a":2.521,"i":4.22,"c":"r"},{"a":2.548,"i":3.01,"c":"r"},{"a":2.575,"i":2.77,"c":"r"},{"a":2.602,"i":2.28,"c":"r"},{"a":2.63,"i":3.25,"c":"r"},{"a":2.651,"i":2.77,"c":"r"},{"a":2.673,"i":2.52,"c":"r"},{"a":2.635,"i":5.2,"c":"r"},{"a":2.678,"i":3.74,"c":"r"},{"a":2.717,"i":3.25,"c":"r"},{"a":2.586,"i":2.04,"c":"r"},{"a":2.619,"i":0.82,"c":"r"},{"a":2.657,"i":1.79,"c":"r"},
    {"a":2.771,"i":34.76,"c":"r"},
    {"a":2.727,"i":32.91,"c":"b"},{"a":2.722,"i":29.99,"c":"b"},{"a":2.731,"i":26.35,"c":"b"},{"a":2.749,"i":25.86,"c":"b"},{"a":2.765,"i":26.59,"c":"b"},{"a":2.771,"i":27.46,"c":"b"},{"a":2.742,"i":24.89,"c":"b"},{"a":2.765,"i":24.16,"c":"b"},{"a":2.782,"i":24.65,"c":"b"},{"a":2.793,"i":23.67,"c":"b"},{"a":2.755,"i":21.48,"c":"b"},{"a":2.733,"i":19.3,"c":"b"},{"a":2.755,"i":18.08,"c":"b"},{"a":2.776,"i":18.57,"c":"b"},{"a":2.793,"i":18.32,"c":"b"},{"a":2.733,"i":16.38,"c":"b"},{"a":2.765,"i":16.38,"c":"b"},{"a":2.787,"i":15.89,"c":"b"},{"a":2.744,"i":14.43,"c":"b"},{"a":2.776,"i":13.95,"c":"b"},{"a":2.76,"i":12.49,"c":"b"},{"a":2.793,"i":12.0,"c":"b"},{"a":2.738,"i":10.55,"c":"b"},{"a":2.771,"i":9.57,"c":"b"},{"a":2.798,"i":9.33,"c":"b"},{"a":2.727,"i":8.6,"c":"b"},{"a":2.755,"i":7.63,"c":"b"},{"a":2.782,"i":6.9,"c":"b"},{"a":2.744,"i":5.68,"c":"b"},{"a":2.771,"i":4.47,"c":"b"},{"a":2.793,"i":5.44,"c":"b"},{"a":2.733,"i":3.25,"c":"b"},{"a":2.782,"i":1.79,"c":"b"},
    {"a":2.789,"i":26.35,"c":"r"},{"a":2.76,"i":25.37,"c":"r"},{"a":2.744,"i":23.19,"c":"r"},{"a":2.771,"i":23.19,"c":"r"},{"a":2.787,"i":18.57,"c":"r"},{"a":2.798,"i":19.54,"c":"r"},{"a":2.738,"i":17.35,"c":"r"},{"a":2.771,"i":17.11,"c":"r"},{"a":2.749,"i":15.41,"c":"r"},{"a":2.776,"i":15.16,"c":"r"},{"a":2.796,"i":14.92,"c":"r"},{"a":2.727,"i":13.46,"c":"r"},{"a":2.765,"i":12.73,"c":"r"},{"a":2.738,"i":11.76,"c":"r"},{"a":2.782,"i":11.03,"c":"r"},{"a":2.752,"i":10.3,"c":"r"},{"a":2.803,"i":8.36,"c":"r"},{"a":2.733,"i":9.57,"c":"r"},{"a":2.76,"i":8.84,"c":"r"},{"a":2.787,"i":7.87,"c":"r"},{"a":2.738,"i":6.66,"c":"r"},{"a":2.765,"i":6.17,"c":"r"},{"a":2.798,"i":6.66,"c":"r"},{"a":2.749,"i":4.95,"c":"r"},{"a":2.782,"i":4.22,"c":"r"},{"a":2.733,"i":3.74,"c":"r"},{"a":2.765,"i":2.77,"c":"r"},{"a":2.793,"i":3.01,"c":"r"},{"a":2.755,"i":1.55,"c":"r"},{"a":2.771,"i":1.3,"c":"r"},
    {"a":2.841,"i":29.75,"c":"b"},{"a":2.85,"i":29.41,"c":"b"},{"a":2.906,"i":31.21,"c":"b"},{"a":2.882,"i":26.59,"c":"b"},{"a":2.923,"i":26.93,"c":"b"},{"a":2.917,"i":26.1,"c":"b"},{"a":2.882,"i":25.62,"c":"b"},{"a":2.85,"i":23.77,"c":"b"},{"a":2.852,"i":20.76,"c":"b"},{"a":2.885,"i":20.27,"c":"b"},{"a":2.915,"i":20.37,"c":"b"},{"a":2.885,"i":18.57,"c":"b"},{"a":2.896,"i":17.84,"c":"b"},{"a":2.928,"i":19.3,"c":"b"},{"a":2.85,"i":18.57,"c":"b"},{"a":2.874,"i":17.35,"c":"b"},{"a":2.901,"i":16.62,"c":"b"},{"a":2.923,"i":16.38,"c":"b"},{"a":2.944,"i":15.41,"c":"b"},{"a":2.852,"i":15.41,"c":"b"},{"a":2.879,"i":14.92,"c":"b"},{"a":2.912,"i":14.92,"c":"b"},{"a":2.939,"i":14.43,"c":"b"},{"a":2.863,"i":13.46,"c":"b"},{"a":2.89,"i":12.98,"c":"b"},{"a":2.923,"i":12.49,"c":"b"},{"a":2.847,"i":12.0,"c":"b"},{"a":2.874,"i":11.52,"c":"b"},{"a":2.906,"i":11.03,"c":"b"},{"a":2.934,"i":10.79,"c":"b"},{"a":2.858,"i":10.06,"c":"b"},{"a":2.885,"i":9.57,"c":"b"},{"a":2.912,"i":9.09,"c":"b"},{"a":2.939,"i":8.36,"c":"b"},{"a":2.852,"i":6.9,"c":"b"},{"a":2.89,"i":7.14,"c":"b"},{"a":2.923,"i":7.38,"c":"b"},{"a":2.841,"i":5.68,"c":"b"},{"a":2.874,"i":5.2,"c":"b"},{"a":2.901,"i":4.47,"c":"b"},{"a":2.928,"i":3.74,"c":"b"},{"a":2.863,"i":3.25,"c":"b"},{"a":2.917,"i":2.52,"c":"b"},{"a":2.836,"i":3.25,"c":"b"},{"a":2.896,"i":1.3,"c":"b"},
    {"a":2.866,"i":24.89,"c":"r"},{"a":2.923,"i":25.13,"c":"r"},{"a":2.896,"i":19.05,"c":"r"},{"a":2.858,"i":16.86,"c":"r"},{"a":2.885,"i":16.14,"c":"r"},{"a":2.841,"i":14.92,"c":"r"},{"a":2.923,"i":13.95,"c":"r"},{"a":2.858,"i":12.73,"c":"r"},{"a":2.885,"i":12.25,"c":"r"},{"a":2.944,"i":11.52,"c":"r"},{"a":2.852,"i":10.55,"c":"r"},{"a":2.896,"i":10.3,"c":"r"},{"a":2.923,"i":10.06,"c":"r"},{"a":2.874,"i":8.6,"c":"r"},{"a":2.841,"i":7.87,"c":"r"},{"a":2.901,"i":7.87,"c":"r"},{"a":2.863,"i":6.17,"c":"r"},{"a":2.885,"i":5.93,"c":"r"},{"a":2.912,"i":5.68,"c":"r"},{"a":2.858,"i":4.22,"c":"r"},{"a":2.89,"i":3.74,"c":"r"},{"a":2.874,"i":2.77,"c":"r"},{"a":2.868,"i":1.3,"c":"r"},{"a":2.896,"i":1.79,"c":"r"},{"a":2.923,"i":2.28,"c":"r"},{"a":2.885,"i":0.82,"c":"r"},
    {"a":2.981,"i":27.81,"c":"b"},{"a":2.987,"i":27.32,"c":"b"},{"a":3.048,"i":28.15,"c":"b"},{"a":3.056,"i":27.56,"c":"b"},{"a":3.006,"i":24.55,"c":"b"},{"a":3.017,"i":24.55,"c":"b"},{"a":3.035,"i":23.09,"c":"b"},{"a":2.977,"i":21.48,"c":"b"},{"a":3.046,"i":25.37,"c":"b"},{"a":3.135,"i":29.02,"c":"b"},{"a":3.14,"i":28.05,"c":"b"},{"a":3.2,"i":29.41,"c":"b"},{"a":3.135,"i":26.01,"c":"b"},{"a":3.206,"i":26.01,"c":"b"},{"a":3.209,"i":23.58,"c":"b"},{"a":3.219,"i":23.33,"c":"b"},{"a":3.048,"i":20.76,"c":"b"},{"a":3.091,"i":20.27,"c":"b"},{"a":3.097,"i":20.51,"c":"b"},
    {"a":3.002,"i":28.78,"c":"r"},{"a":2.988,"i":24.55,"c":"r"},{"a":3.108,"i":24.89,"c":"r"},{"a":3.129,"i":24.65,"c":"r"},{"a":3.156,"i":26.2,"c":"r"},{"a":3.178,"i":25.86,"c":"r"},{"a":3.198,"i":24.55,"c":"r"},{"a":3.162,"i":22.7,"c":"r"},
    {"a":2.972,"i":19.3,"c":"b"},{"a":2.988,"i":18.81,"c":"b"},{"a":3.004,"i":19.54,"c":"b"},{"a":3.021,"i":17.84,"c":"b"},{"a":3.048,"i":18.81,"c":"b"},{"a":3.059,"i":18.08,"c":"b"},{"a":3.08,"i":20.27,"c":"b"},{"a":3.097,"i":19.3,"c":"b"},{"a":3.113,"i":19.78,"c":"b"},{"a":3.135,"i":20.27,"c":"b"},{"a":3.156,"i":20.76,"c":"b"},{"a":3.178,"i":20.27,"c":"b"},{"a":3.2,"i":21.73,"c":"b"},{"a":3.222,"i":19.3,"c":"b"},{"a":2.983,"i":16.86,"c":"b"},{"a":3.006,"i":16.14,"c":"b"},{"a":3.026,"i":15.41,"c":"b"},{"a":3.053,"i":15.89,"c":"b"},{"a":3.069,"i":14.92,"c":"b"},{"a":3.097,"i":15.41,"c":"b"},{"a":3.118,"i":16.38,"c":"b"},{"a":3.14,"i":15.65,"c":"b"},{"a":3.167,"i":16.86,"c":"b"},{"a":3.194,"i":17.35,"c":"b"},{"a":3.216,"i":17.84,"c":"b"},{"a":2.972,"i":13.95,"c":"b"},{"a":2.999,"i":13.46,"c":"b"},{"a":3.021,"i":12.73,"c":"b"},{"a":3.048,"i":13.22,"c":"b"},{"a":3.069,"i":12.25,"c":"b"},{"a":3.091,"i":12.73,"c":"b"},{"a":3.113,"i":12.0,"c":"b"},{"a":3.14,"i":11.52,"c":"b"},{"a":3.167,"i":12.49,"c":"b"},{"a":3.189,"i":12.98,"c":"b"},{"a":3.211,"i":13.46,"c":"b"},{"a":2.983,"i":10.79,"c":"b"},{"a":3.01,"i":10.55,"c":"b"},{"a":3.037,"i":10.06,"c":"b"},{"a":3.064,"i":9.57,"c":"b"},{"a":3.091,"i":10.06,"c":"b"},{"a":3.113,"i":9.09,"c":"b"},{"a":3.135,"i":9.57,"c":"b"},{"a":3.156,"i":8.36,"c":"b"},{"a":3.184,"i":9.33,"c":"b"},{"a":3.205,"i":10.06,"c":"b"},{"a":2.977,"i":8.11,"c":"b"},{"a":2.999,"i":7.63,"c":"b"},{"a":3.026,"i":7.14,"c":"b"},{"a":3.053,"i":6.66,"c":"b"},{"a":3.08,"i":7.63,"c":"b"},{"a":3.108,"i":6.17,"c":"b"},{"a":3.129,"i":6.66,"c":"b"},{"a":3.156,"i":5.68,"c":"b"},{"a":3.178,"i":7.14,"c":"b"},{"a":3.205,"i":7.63,"c":"b"},{"a":3.227,"i":8.36,"c":"b"},{"a":2.983,"i":5.2,"c":"b"},{"a":3.01,"i":4.47,"c":"b"},{"a":3.042,"i":3.74,"c":"b"},{"a":3.069,"i":4.71,"c":"b"},{"a":3.097,"i":3.25,"c":"b"},{"a":3.124,"i":3.74,"c":"b"},{"a":3.151,"i":3.25,"c":"b"},{"a":3.178,"i":4.22,"c":"b"},{"a":3.205,"i":4.71,"c":"b"},{"a":2.993,"i":2.77,"c":"b"},{"a":3.031,"i":1.3,"c":"b"},{"a":3.08,"i":1.79,"c":"b"},{"a":3.113,"i":0.82,"c":"b"},
    {"a":2.977,"i":18.32,"c":"r"},{"a":2.999,"i":17.84,"c":"r"},{"a":3.031,"i":17.35,"c":"r"},{"a":3.048,"i":16.86,"c":"r"},{"a":3.08,"i":17.84,"c":"r"},{"a":3.108,"i":18.32,"c":"r"},{"a":3.129,"i":18.08,"c":"r"},{"a":3.151,"i":18.57,"c":"r"},{"a":3.173,"i":19.3,"c":"r"},{"a":3.194,"i":18.81,"c":"r"},{"a":3.216,"i":20.27,"c":"r"},{"a":3.227,"i":21.24,"c":"r"},{"a":2.993,"i":14.92,"c":"r"},{"a":3.015,"i":14.43,"c":"r"},{"a":3.037,"i":13.95,"c":"r"},{"a":3.064,"i":13.46,"c":"r"},{"a":3.086,"i":14.43,"c":"r"},{"a":3.102,"i":13.95,"c":"r"},{"a":3.124,"i":14.43,"c":"r"},{"a":3.146,"i":14.19,"c":"r"},{"a":3.167,"i":14.92,"c":"r"},{"a":3.189,"i":15.41,"c":"r"},{"a":3.216,"i":14.92,"c":"r"},{"a":3.227,"i":12.49,"c":"r"},{"a":2.983,"i":12.49,"c":"r"},{"a":3.01,"i":12.0,"c":"r"},{"a":3.037,"i":11.52,"c":"r"},{"a":3.053,"i":11.03,"c":"r"},{"a":3.075,"i":11.27,"c":"r"},{"a":3.097,"i":11.27,"c":"r"},{"a":3.124,"i":10.79,"c":"r"},{"a":3.146,"i":10.3,"c":"r"},{"a":3.167,"i":10.55,"c":"r"},{"a":3.189,"i":11.03,"c":"r"},{"a":3.211,"i":11.76,"c":"r"},{"a":3.222,"i":10.55,"c":"r"},{"a":2.988,"i":9.57,"c":"r"},{"a":3.015,"i":9.09,"c":"r"},{"a":3.042,"i":8.6,"c":"r"},{"a":3.069,"i":8.6,"c":"r"},{"a":3.097,"i":8.36,"c":"r"},{"a":3.118,"i":7.87,"c":"r"},{"a":3.14,"i":8.36,"c":"r"},{"a":3.167,"i":8.11,"c":"r"},{"a":3.189,"i":8.6,"c":"r"},{"a":3.211,"i":9.57,"c":"r"},{"a":2.988,"i":6.66,"c":"r"},{"a":3.021,"i":5.93,"c":"r"},{"a":3.048,"i":5.68,"c":"r"},{"a":3.075,"i":5.93,"c":"r"},{"a":3.097,"i":5.44,"c":"r"},{"a":3.118,"i":4.71,"c":"r"},{"a":3.14,"i":5.2,"c":"r"},{"a":3.167,"i":4.71,"c":"r"},{"a":3.189,"i":5.68,"c":"r"},{"a":3.216,"i":6.17,"c":"r"},{"a":3.232,"i":4.22,"c":"r"},{"a":2.983,"i":3.74,"c":"r"},{"a":3.015,"i":3.25,"c":"r"},{"a":3.048,"i":2.77,"c":"r"},{"a":3.075,"i":2.52,"c":"r"},{"a":3.102,"i":2.28,"c":"r"},{"a":3.124,"i":1.79,"c":"r"},{"a":3.14,"i":1.3,"c":"r"},{"a":3.167,"i":1.3,"c":"r"},{"a":3.194,"i":1.79,"c":"r"},{"a":3.211,"i":3.25,"c":"r"},{"a":3.135,"i":0.33,"c":"r"},{"a":3.151,"i":0.82,"c":"r"},{"a":3.097,"i":0.82,"c":"r"},
    {"a":3.381,"i":26.01,"c":"r"},{"a":3.355,"i":22.6,"c":"r"},{"a":3.377,"i":21.92,"c":"r"},{"a":3.39,"i":20.85,"c":"r"},{"a":3.403,"i":20.27,"c":"r"},{"a":3.412,"i":20.46,"c":"r"},{"a":3.437,"i":19.88,"c":"r"},{"a":3.42,"i":18.71,"c":"r"},{"a":3.355,"i":19.05,"c":"r"},{"a":3.357,"i":17.11,"c":"r"},{"a":3.494,"i":19.39,"c":"r"},{"a":3.544,"i":18.71,"c":"r"},{"a":3.544,"i":14.43,"c":"r"},{"a":3.357,"i":13.7,"c":"r"},{"a":3.395,"i":12.63,"c":"r"},{"a":3.388,"i":10.35,"c":"r"},{"a":3.403,"i":9.33,"c":"r"},{"a":3.479,"i":10.79,"c":"r"},{"a":3.488,"i":9.96,"c":"r"},{"a":3.507,"i":9.47,"c":"r"},{"a":3.553,"i":8.26,"c":"r"},{"a":3.449,"i":7.53,"c":"r"},{"a":3.414,"i":6.66,"c":"r"},{"a":3.444,"i":6.31,"c":"r"},{"a":3.409,"i":5.63,"c":"r"},{"a":3.359,"i":6.17,"c":"r"},{"a":3.342,"i":5.93,"c":"r"},{"a":3.377,"i":4.61,"c":"r"},{"a":3.385,"i":4.81,"c":"r"},{"a":3.428,"i":3.49,"c":"r"},{"a":3.399,"i":2.86,"c":"r"},{"a":3.42,"i":2.04,"c":"r"},{"a":3.416,"i":1.7,"c":"r"},
    {"a":3.363,"i":20.07,"c":"b"},{"a":3.374,"i":20.46,"c":"b"},{"a":3.538,"i":19.39,"c":"b"},{"a":3.355,"i":17.69,"c":"b"},{"a":3.349,"i":15.17,"c":"b"},{"a":3.344,"i":14.53,"c":"b"},{"a":3.401,"i":14.77,"c":"b"},{"a":3.449,"i":13.07,"c":"b"},{"a":3.559,"i":12.59,"c":"b"},{"a":3.346,"i":11.13,"c":"b"},{"a":3.359,"i":10.79,"c":"b"},{"a":3.37,"i":11.37,"c":"b"},{"a":3.409,"i":9.82,"c":"b"},{"a":3.54,"i":7.77,"c":"b"},{"a":3.569,"i":8.45,"c":"b"},{"a":3.352,"i":7.04,"c":"b"},{"a":3.378,"i":5.49,"c":"b"},{"a":3.427,"i":5.29,"c":"b"},{"a":3.387,"i":1.5,"c":"b"},{"a":3.431,"i":0.48,"c":"b"}
  ]
},
"vconcat": [
  {
    "width": 736, "height": 239,
    "layer": [
      {"data": {"name": "mmr"}, "mark": {"type": "rule", "color": "#a0a0a0", "strokeDash": [6, 4], "strokeWidth": 1.5},
       "encoding": {"x": {"field": "a", "type": "quantitative", "scale": {"domain": [1.6, 4], "nice": false, "zero": false}, "axis": null}}},
      {"data": {"name": "curvesTop"}, "mark": {"type": "line", "color": "#a0a0a0", "strokeDash": [6, 4], "strokeWidth": 2, "clip": true},
       "encoding": {
         "x": {"field": "a", "type": "quantitative", "scale": {"domain": [1.6, 4], "nice": false, "zero": false}, "axis": {"orient": "top", "values": [2, 2.4, 2.8, 3.2, 3.6], "labels": false, "tickSize": -8, "title": null}},
         "y": {"field": "e", "type": "quantitative", "scale": {"domain": [0, 0.6], "nice": false, "zero": false}, "axis": {"orient": "right", "values": [0, 0.05, 0.1, 0.15, 0.2, 0.25, 0.3, 0.35, 0.4, 0.45, 0.5, 0.55, 0.6], "labels": false, "tickSize": {"condition": {"test": "abs(datum.value*5-round(datum.value*5))<0.001", "value": -8}, "value": -4}, "title": null}},
         "detail": {"field": "k", "type": "nominal"}}},
      {"data": {"name": "ecc"}, "mark": {"type": "circle", "size": 34, "opacity": 1},
       "encoding": {
         "x": {"field": "a", "type": "quantitative", "scale": {"domain": [1.6, 4], "nice": false, "zero": false}, "axis": {"orient": "bottom", "values": [2, 2.4, 2.8, 3.2, 3.6], "labels": false, "tickSize": -8, "title": null}},
         "y": {"field": "e", "type": "quantitative", "scale": {"domain": [0, 0.6], "nice": false, "zero": false}, "axis": {"orient": "left", "values": [0, 0.05, 0.1, 0.15, 0.2, 0.25, 0.3, 0.35, 0.4, 0.45, 0.5, 0.55, 0.6], "tickSize": {"condition": {"test": "abs(datum.value*5-round(datum.value*5))<0.001", "value": -8}, "value": -4}, "labelExpr": "abs(datum.value*5-round(datum.value*5))<0.001 ? (datum.value == 0 ? '0' : format(datum.value, '.1f')) : ''", "labelPadding": 23, "title": "Eccentricity", "titleX": -61}},
         "color": {"field": "c", "type": "nominal", "scale": {"domain": ["r", "b"], "range": ["#ff0000", "#0000ff"]}, "legend": null}}},
      {"data": {"name": "mmr"}, "mark": {"type": "text", "baseline": "alphabetic", "align": "center", "dy": -9},
       "encoding": {"x": {"field": "a", "type": "quantitative", "scale": {"domain": [1.6, 4], "nice": false, "zero": false}, "axis": null}, "y": {"datum": 0.6, "type": "quantitative", "scale": {"domain": [0, 0.6], "nice": false, "zero": false}, "axis": null}, "text": {"field": "label"}}},
      {"data": {"name": "notes"}, "transform": [{"filter": "datum.a < 2"}], "mark": {"type": "text", "baseline": "alphabetic", "align": "left", "dy": -9},
       "encoding": {"x": {"field": "a", "type": "quantitative", "scale": {"domain": [1.6, 4], "nice": false, "zero": false}, "axis": null}, "y": {"datum": 0.6, "type": "quantitative", "scale": {"domain": [0, 0.6], "nice": false, "zero": false}, "axis": null}, "text": {"field": "t"}}},
      {"data": {"name": "notes"}, "transform": [{"filter": "datum.a > 2"}], "mark": {"type": "text", "baseline": "alphabetic", "align": "right", "dy": -9, "dx": -5},
       "encoding": {"x": {"field": "a", "type": "quantitative", "scale": {"domain": [1.6, 4], "nice": false, "zero": false}, "axis": null}, "y": {"datum": 0.6, "type": "quantitative", "scale": {"domain": [0, 0.6], "nice": false, "zero": false}, "axis": null}, "text": {"field": "t"}}}
    ],
    "resolve": {"axis": {"x": "independent", "y": "independent"}}
  },
  {
    "width": 736, "height": 240,
    "layer": [
      {"data": {"name": "mmr"}, "mark": {"type": "rule", "color": "#a0a0a0", "strokeDash": [6, 4], "strokeWidth": 1.5},
       "encoding": {"x": {"field": "a", "type": "quantitative", "scale": {"domain": [1.6, 4], "nice": false, "zero": false}, "axis": null}}},
      {"data": {"name": "curveBot"}, "mark": {"type": "line", "color": "#a0a0a0", "strokeDash": [6, 4], "strokeWidth": 2, "clip": true},
       "encoding": {
         "x": {"field": "a", "type": "quantitative", "scale": {"domain": [1.6, 4], "nice": false, "zero": false}, "axis": {"orient": "top", "values": [2, 2.4, 2.8, 3.2, 3.6], "labels": false, "tickSize": -8, "title": null}},
         "y": {"field": "i", "type": "quantitative", "scale": {"domain": [0, 35], "nice": false, "zero": false}, "axis": {"orient": "right", "values": [0, 2, 4, 6, 8, 10, 12, 14, 16, 18, 20, 22, 24, 26, 28, 30, 32, 34], "labels": false, "tickSize": {"condition": {"test": "datum.value % 10 == 0", "value": -8}, "value": -4}, "title": null}}}},
      {"data": {"name": "inc"}, "mark": {"type": "circle", "size": 34, "opacity": 1},
       "encoding": {
         "x": {"field": "a", "type": "quantitative", "scale": {"domain": [1.6, 4], "nice": false, "zero": false}, "axis": {"orient": "bottom", "values": [1.6, 2, 2.4, 2.8, 3.2, 3.6, 4], "tickSize": -8, "labelPadding": 25, "labelExpr": "datum.value == round(datum.value) ? datum.value + '.' : format(datum.value, '.1f')", "title": "Semimajor axis (au)", "titlePadding": 10}},
         "y": {"field": "i", "type": "quantitative", "scale": {"domain": [0, 35], "nice": false, "zero": false}, "axis": {"orient": "left", "values": [0, 2, 4, 6, 8, 10, 12, 14, 16, 18, 20, 22, 24, 26, 28, 30, 32, 34], "tickSize": {"condition": {"test": "datum.value % 10 == 0", "value": -8}, "value": -4}, "labelExpr": "datum.value % 10 == 0 ? datum.value + '' : ''", "labelPadding": 23, "title": "Inclination (°)", "titleX": -61}},
         "color": {"field": "c", "type": "nominal", "scale": {"domain": ["r", "b"], "range": ["#ff0000", "#0000ff"]}, "legend": null}}}
    ],
    "resolve": {"axis": {"x": "independent", "y": "independent"}}
  }
],
"spacing": 0,
"bounds": "flush"
}
